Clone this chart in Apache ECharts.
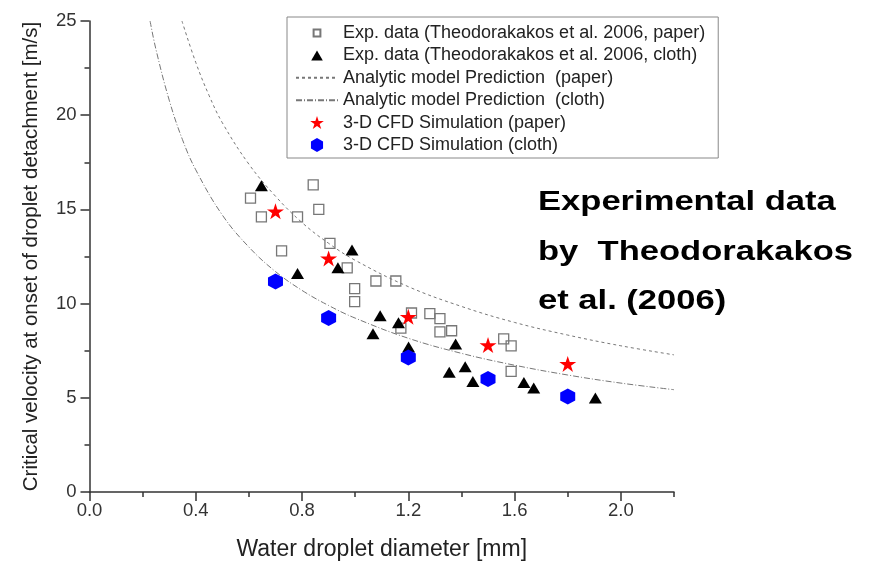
<!DOCTYPE html>
<html>
<head>
<meta charset="utf-8">
<script src="https://cdn.jsdelivr.net/npm/echarts@6/dist/echarts.min.js"></script>
<style>html,body{margin:0;padding:0;background:#fff}#c{width:871px;height:566px}</style>
</head>
<body>
<div id="c"></div>
<script>
// ---- data ----
var xMajorTicks = [0.0, 0.4, 0.8, 1.2, 1.6, 2.0];
var yTicks = [0, 5, 10, 15, 20, 25];

var expPaper = [
  [0.606, 15.6], [0.647, 14.6], [0.842, 16.3], [0.863, 15.0], [0.783, 14.6],
  [0.723, 12.8], [0.905, 13.2], [0.970, 11.9], [0.998, 10.8], [0.998, 10.1],
  [1.078, 11.2], [1.153, 11.2], [1.212, 9.5], [1.172, 8.7], [1.281, 9.47],
  [1.319, 9.2], [1.319, 8.5], [1.363, 8.56], [1.559, 8.13], [1.587, 7.76],
  [1.587, 6.4]
];
var expCloth = [
  [0.647, 16.25], [0.783, 11.6], [0.988, 12.85], [0.935, 11.9], [1.094, 9.35],
  [1.067, 8.4], [1.163, 8.98], [1.201, 7.7], [1.378, 7.85], [1.354, 6.35],
  [1.414, 6.65], [1.443, 5.87], [1.635, 5.81], [1.672, 5.52], [1.904, 4.99]
];
var modelPaper = [
  [0.348, 25.0], [0.4, 22.8], [0.45, 21.05], [0.5, 19.6], [0.6, 17.4], [0.7, 15.7],
  [0.8, 14.3], [0.9, 13.2], [1.0, 12.3], [1.2, 10.9], [1.4, 9.85], [1.6, 9.0],
  [1.8, 8.33], [2.0, 7.76], [2.2, 7.28]
];
var modelCloth = [
  [0.228, 25.0], [0.25, 23.5], [0.3, 20.8], [0.35, 18.7], [0.4, 17.1], [0.5, 14.7],
  [0.6, 13.0], [0.7, 11.7], [0.8, 10.7], [0.9, 9.9], [1.0, 9.23], [1.2, 8.16],
  [1.4, 7.36], [1.6, 6.73], [1.8, 6.21], [2.0, 5.78], [2.2, 5.43]
];
var cfdPaper = [[0.7, 14.9], [0.9, 12.4], [1.2, 9.3], [1.5, 7.8], [1.8, 6.8]];
var cfdCloth = [[0.7, 11.17], [0.9, 9.23], [1.2, 7.14], [1.5, 6.0], [1.8, 5.07]];

var names = [
  'Exp. data (Theodorakakos et al. 2006, paper)',
  'Exp. data (Theodorakakos et al. 2006, cloth)',
  'Analytic model Prediction  (paper)',
  'Analytic model Prediction  (cloth)',
  '3-D CFD Simulation (paper)',
  '3-D CFD Simulation (cloth)'
];
var annotation = 'Experimental data\nby  Theodorakakos\net al. (2006)';

var STAR = 'path://M0,-1 L0.2245,-0.309 L0.951,-0.309 L0.3633,0.118 L0.588,0.809 L0,0.382 L-0.588,0.809 L-0.3633,0.118 L-0.951,-0.309 L-0.2245,-0.309 Z';
var HEX = 'path://M0,-1 L0.866,-0.5 L0.866,0.5 L0,1 L-0.866,0.5 L-0.866,-0.5 Z';
var LEG_SQUARE = 'path://M-7,-7 M7,7 M-3.4,-3.4 L3.4,-3.4 L3.4,3.4 L-3.4,3.4 Z';
var LEG_TRI = 'path://M-7,-7 M7,7 M0,-5 L5.8,5 L-5.8,5 Z';
var LEG_STAR = 'path://M0,-1.05 M0,0.9 M0,-1 L0.2245,-0.309 L0.951,-0.309 L0.3633,0.118 L0.588,0.809 L0,0.382 L-0.588,0.809 L-0.3633,0.118 L-0.951,-0.309 L-0.2245,-0.309 Z';
var FONT = 'Liberation Sans, Arial, sans-serif';
var chart = echarts.init(document.getElementById('c'), null, {renderer: 'canvas'});

chart.setOption({
  animation: false,
  backgroundColor: '#fff',
  grid: {left: 89.5, right: 197, top: 21, bottom: 74, containLabel: false},
  xAxis: [{
    type: 'value', min: 0, max: 2.2, interval: 0.2,
    name: 'Water droplet diameter [mm]', nameLocation: 'middle', nameGap: 46,
    nameTextStyle: {fontFamily: FONT, fontSize: 23, color: '#222'},
    axisLine: {show: true, lineStyle: {color: '#333', width: 1.5}},
    axisTick: {show: true, inside: false, length: 9, customValues: xMajorTicks, lineStyle: {color: '#333', width: 1.5}},
    axisLabel: {customValues: xMajorTicks, margin: 9, fontFamily: FONT, fontSize: 18.5, color: '#333',
      formatter: function (v) { return v.toFixed(1); }},
    splitLine: {show: false}
  }, {
    type: 'value', min: 0, max: 2.2, interval: 0.2, position: 'bottom', offset: 0,
    axisLine: {show: false},
    axisTick: {show: true, inside: false, length: 5, lineStyle: {color: '#333', width: 1.5}},
    axisLabel: {show: false},
    splitLine: {show: false}
  }],
  yAxis: {
    type: 'value', min: 0, max: 25, interval: 5,
    name: 'Critical velocity at onset of droplet detachment [m/s]', nameLocation: 'middle', nameGap: 48,
    nameTextStyle: {fontFamily: FONT, fontSize: 20.5, color: '#222'},
    axisLine: {show: true, lineStyle: {color: '#333', width: 1.5}},
    axisTick: {show: true, inside: false, length: 9, lineStyle: {color: '#333', width: 1.5}},
    minorTick: {show: true, splitNumber: 2, length: 5, lineStyle: {color: '#333', width: 1.5}},
    axisLabel: {margin: 13, fontFamily: FONT, fontSize: 18.5, color: '#333',
      formatter: function (v) { return yTicks.indexOf(v) >= 0 ? String(v) : ''; }},
    splitLine: {show: false}
  },
  legend: {
    orient: 'vertical', left: 287, top: 17,
    padding: [7, 13, 4, 8], itemGap: 4.4, itemWidth: 42, itemHeight: 14,
    borderColor: '#888', borderWidth: 1,
    textStyle: {fontFamily: FONT, fontSize: 18, color: '#222', lineHeight: 18},
    data: [
      {name: names[0], icon: LEG_SQUARE},
      {name: names[1], icon: LEG_TRI},
      {name: names[2], itemStyle: {color: 'rgba(0,0,0,0)', borderColor: 'rgba(0,0,0,0)', borderWidth: 0}},
      {name: names[3], itemStyle: {color: 'rgba(0,0,0,0)', borderColor: 'rgba(0,0,0,0)', borderWidth: 0}},
      {name: names[4], icon: LEG_STAR},
      {name: names[5], icon: HEX}
    ]
  },
  graphic: [{
    type: 'text', x: 538, y: 178, scaleX: 1.28, z: 100,
    style: {text: annotation, fontFamily: FONT, fontSize: 27, fontWeight: 'bold', fill: '#000', lineHeight: 49.5}
  }],
  series: [
    {name: names[2], type: 'line', data: modelPaper, smooth: 0.4, symbol: 'none',
     lineStyle: {color: '#777', width: 1, type: [3, 3]}, itemStyle: {color: '#777'}, z: 1},
    {name: names[3], type: 'line', data: modelCloth, smooth: 0.4, symbol: 'none',
     lineStyle: {color: '#777', width: 1, type: [6, 2, 1, 2]}, itemStyle: {color: '#777'}, z: 1},
    {name: names[0], type: 'scatter', data: expPaper, symbol: 'rect', symbolSize: 10,
     itemStyle: {color: 'rgba(255,255,255,0)', borderColor: '#777', borderWidth: 1.3, opacity: 1}, z: 3},
    {name: names[1], type: 'scatter', data: expCloth, symbol: 'triangle', symbolSize: [13, 11],
     itemStyle: {color: '#000', opacity: 1}, z: 4},
    {name: names[4], type: 'scatter', data: cfdPaper, symbol: STAR, symbolSize: [17, 16],
     itemStyle: {color: '#ff0000', opacity: 1}, z: 5},
    {name: names[5], type: 'scatter', data: cfdCloth, symbol: HEX, symbolSize: [15, 16],
     itemStyle: {color: '#0000ff', opacity: 1}, z: 5}
  ]
});
</script>
</body>
</html>
